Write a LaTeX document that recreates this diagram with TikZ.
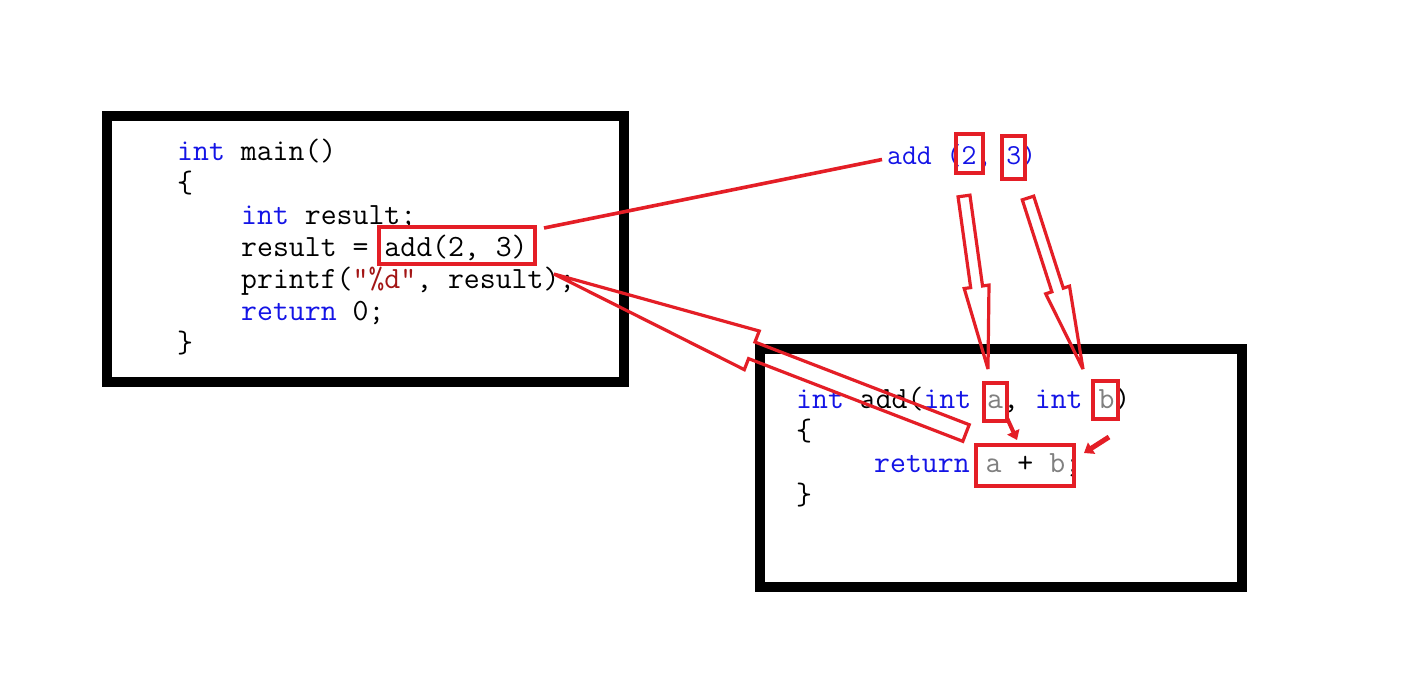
\documentclass[tikz,border=0pt]{standalone}
\usepackage{fontspec}
\usetikzlibrary{calc,arrows.meta}
\definecolor{kwc}{RGB}{20,20,230}
\definecolor{strc}{RGB}{163,21,21}
\definecolor{parc}{RGB}{128,128,128}
\definecolor{redc}{RGB}{228,30,38}
\newcommand{\kw}[1]{\textcolor{kwc}{#1}}
\newcommand{\strlit}[1]{\textcolor{strc}{#1}}
\newcommand{\prm}[1]{\textcolor{parc}{#1}}
\newcommand{\codesize}{\ttfamily\fontsize{30.9}{32}\selectfont}
\newcommand{\lblsize}{\ttfamily\fontsize{28.9}{30}\selectfont}
% block (hollow) arrow: #1 tail, #2 tip, #3 half shaft, #4 half head, #5 head length
\newcommand{\blockarrow}[5]{%
  \path ($(#2)!#5!(#1)$) coordinate (ba-h);
  \draw[hollow] ($(#1)!#3!90:(#2)$) -- ($(ba-h)!#3!90:(#2)$) -- ($(ba-h)!#4!90:(#2)$)
     -- (#2) -- ($(ba-h)!#4!-90:(#2)$) -- ($(ba-h)!#3!-90:(#2)$) -- ($(#1)!#3!-90:(#2)$) -- cycle;
}
\tikzset{
  blackbox/.style={draw=black, line width=9.5pt, inner sep=0pt},
  code/.style={font=\codesize, inner sep=0pt, anchor=base west},
  lbl/.style={font=\lblsize, inner sep=0pt, anchor=base west, text=kwc},
  redbox/.style={draw=redc, line width=3.8pt, inner sep=0pt},
  thinred/.style={draw=redc, line width=3.6pt},
  hollow/.style={draw=redc, line width=3.2pt, line join=miter, miter limit=3},
  smallarr/.style={draw=redc, line width=4pt, -{Triangle[length=9pt,width=13pt]}},
}
\begin{document}
\begin{tikzpicture}[x=1pt,y=-1pt]
\fill[white] (0,0) rectangle (1416,672);
\useasboundingbox (0,0) rectangle (1416,672);

% frames
\node[blackbox, minimum width=517, minimum height=266] (box1) at (365.5,249) {};
\node[blackbox, minimum width=482, minimum height=238] (box2) at (1001,468) {};

% main()
\node[code] (m1) at (177,160) {\kw{int} main()};
\node[code] (m2) at (177,192) {\{};
\node[code] (m3) at (241,224) {\kw{int} result;};
\node[code] (m4) at (241,256) {result = add(2, 3)};
\node[code] (m5) at (241,288) {printf(\strlit{"\%d"}, result);};
\node[code] (m6) at (241,320) {\kw{return} 0;};
\node[code] (m7) at (177,352) {\}};

% add()
\node[code] (f1) at (796,408) {\kw{int} add(\kw{int} \prm{a}, \kw{int} \prm{b})};
\node[code] (f2) at (796,440) {\{};
\node[code] (f3) at (874,472) {\kw{return} \prm{a} + \prm{b};};
\node[code] (f4) at (796,504) {\}};

% label
\node[lbl] (call) at (887,164) {add (2, 3)};

% red boxes
\node[redbox, minimum width=156, minimum height=37] (rbAdd) at (457,245.5) {};
\node[redbox, minimum width=27, minimum height=39] (rb2) at (969.5,153.5) {};
\node[redbox, minimum width=23, minimum height=43] (rb3) at (1013.5,157.5) {};
\node[redbox, minimum width=23, minimum height=38] (rbA) at (995.5,402) {};
\node[redbox, minimum width=25, minimum height=38] (rbB) at (1105.5,400) {};
\node[redbox, minimum width=98, minimum height=41] (rbSum) at (1025,465.5) {};

% connector: call site -> label
\coordinate (lineS) at (544,228);
\coordinate (lineE) at (882,159.5);
\draw[thinred] (lineS) -- (lineE);

% argument arrows
\coordinate (a1s) at (964,196);
\coordinate (a1e) at (988,369);
\blockarrow{a1s}{a1e}{6pt}{12.5pt}{83pt}
\coordinate (a2s) at (1028,198);
\coordinate (a2e) at (1083,369);
\blockarrow{a2s}{a2e}{6pt}{12.5pt}{83pt}

% return arrow
\coordinate (r1s) at (966,433);
\coordinate (r1e) at (554,274);
\blockarrow{r1s}{r1e}{8.9pt}{20.7pt}{212pt}

% small arrows into a + b
\coordinate (sa1) at (1007,418);
\coordinate (sa2) at (1017,440);
\draw[smallarr] (sa1) -- (sa2);
\coordinate (sb1) at (1109,437);
\coordinate (sb2) at (1084,453);
\draw[smallarr, line width=5pt] (sb1) -- (sb2);
\end{tikzpicture}
\end{document}
